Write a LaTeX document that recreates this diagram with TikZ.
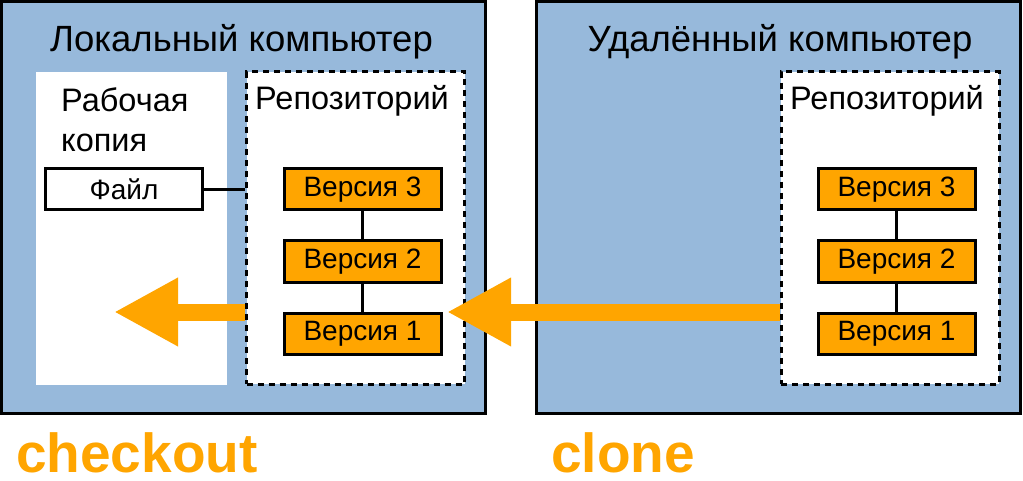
\documentclass[tikz,border=0pt]{standalone}
\usepackage{fontspec}
\setmainfont{Liberation Sans}
\usepackage{tikz}
\usetikzlibrary{arrows.meta}
\usetikzlibrary{positioning}
\definecolor{hostblue}{RGB}{151,185,219}
\definecolor{gitorange}{RGB}{255,165,0}
\tikzset{host/.style={rectangle, draw, line width=3pt, fill=hostblue, inner sep=0pt, minimum width=484pt, minimum height=411pt}}
\tikzset{repo/.style={rectangle, draw, line width=3pt, dash pattern=on 6pt off 5pt, fill=white, inner sep=0pt, minimum width=218pt, minimum height=312pt}}
\tikzset{wcopy/.style={rectangle, fill=white, inner sep=0pt, minimum width=191pt, minimum height=313pt}}
\tikzset{ver/.style={rectangle, draw, line width=3pt, fill=gitorange, inner sep=0pt, minimum width=157pt, minimum height=41pt, font=\fontsize{28}{34}\selectfont}}
\tikzset{filebox/.style={ver, fill=white, font=\fontsize{28}{34}\selectfont}}
\tikzset{title/.style={inner sep=0pt, anchor=base, font=\fontsize{36.5}{44}\selectfont}}
\tikzset{caption/.style={inner sep=0pt, font=\fontsize{32.5}{40}\selectfont}}
\tikzset{op/.style={inner sep=0pt, anchor=base west, text=gitorange, font=\fontsize{55}{66}\selectfont\bfseries}}
\tikzset{link/.style={line width=3pt}}
\tikzset{flow/.style={gitorange, line width=17pt, -{Triangle[length=64pt,width=64pt]}}}

\begin{document}
\begin{tikzpicture}[x=1pt, y=-1pt]

    \useasboundingbox (0,0) rectangle (1023,481);

    % local computer
    \node[host] (local) at (243.75,207.5) {};
    \node[title] (ltitle) at (241.5,52) {Локальный компьютер};
    \node[wcopy] (work) at (131.5,228.5) {};
    \node[caption, align=left, anchor=north west] (worklabel) at (61,87.5) {Рабочая\\копия};
    \node[filebox] (file) at (124,189.3) {Файл};
    \node[repo] (lrepo) at (355.5,228) {};
    \node[caption, anchor=base west] (lrepolabel) at (255,110) {Репозиторий};
    \node[ver] (lv3) at (362.5,189.5) {Версия 3};
    \node[ver, below=28pt of lv3] (lv2) {Версия 2};
    \node[ver, below=28pt of lv2] (lv1) {Версия 1};

    % remote computer
    \node[host] (remote) at (778,207.5) {};
    \node[title] (rtitle) at (780,52) {Удалённый компьютер};
    \node[repo] (rrepo) at (890,228) {};
    \node[caption, anchor=base west] (rrepolabel) at (790,110) {Репозиторий};
    \node[ver] (rv3) at (896.5,189.5) {Версия 3};
    \node[ver, below=28pt of rv3] (rv2) {Версия 2};
    \node[ver, below=28pt of rv2] (rv1) {Версия 1};

    \draw[link] (file.east) -- (file.east -| lrepo.west);
    \draw[link] (lv3) -- (lv2) -- (lv1);
    \draw[link] (rv3) -- (rv2) -- (rv1);

    % operations
    \coordinate (cotip) at (114,312);
    \coordinate (cltip) at (447,312);
    \draw[flow] (lrepo.west |- cotip) -- (cotip);
    \draw[flow] (rrepo.west |- cltip) -- (cltip);
    \node[op] (checkout) at (16,472) {checkout};
    \node[op] (clone) at (551,472) {clone};

  \end{tikzpicture}
\end{document}
